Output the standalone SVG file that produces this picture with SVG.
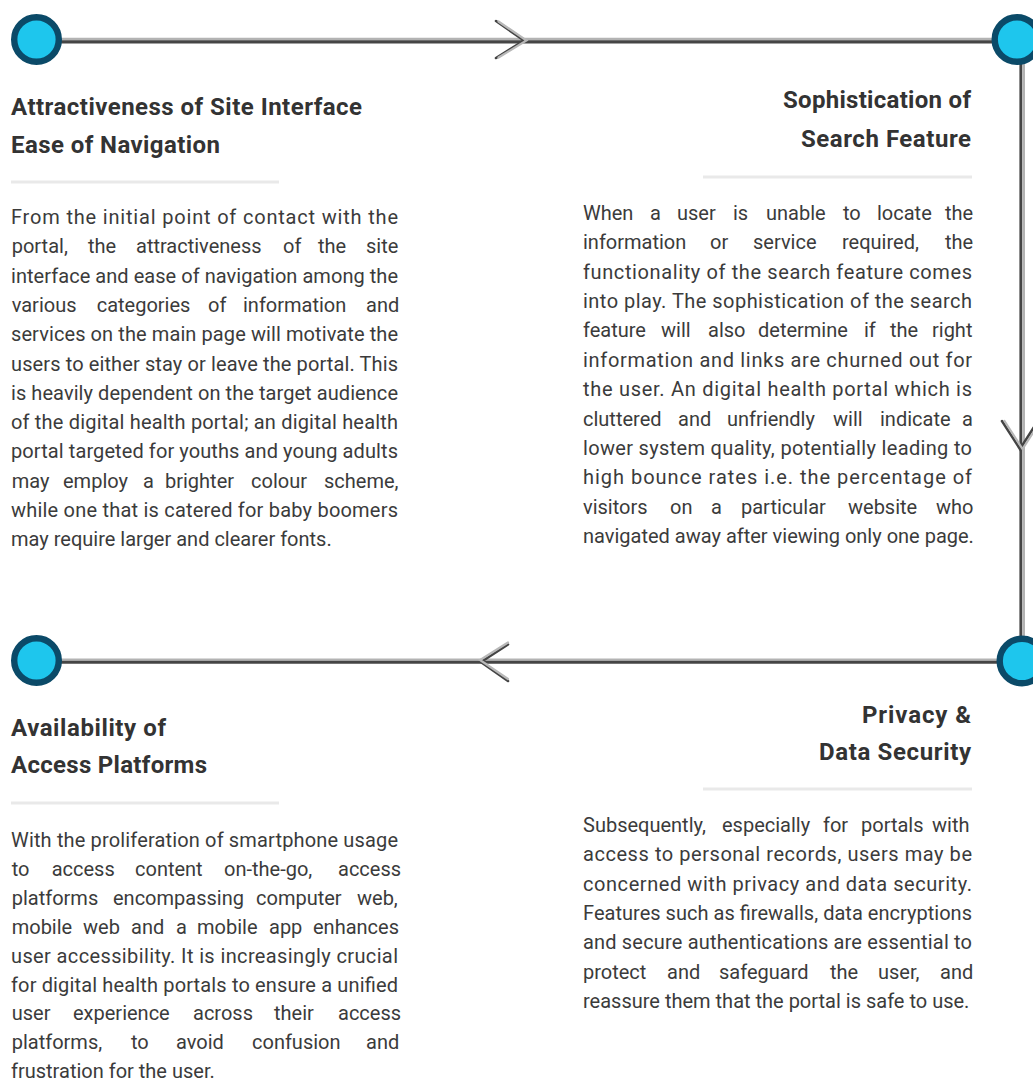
<svg xmlns="http://www.w3.org/2000/svg" width="1033" height="1081" viewBox="0 0 1033 1081">
<style>
.h{font-family:Roboto,"Liberation Sans",sans-serif;font-weight:700;font-size:24px;fill:#333333}
.he{text-anchor:end}
.b{font-family:Roboto,"Liberation Sans",sans-serif;font-size:20px;fill:#3b3b3b}
.sep{fill:#e9e9e9}
.dot{fill:#1ec6ed;stroke:#0b4a68;stroke-width:6.4}
.lt{fill:none;stroke:#b3b3b3;stroke-linecap:butt}
.dk{fill:none;stroke:#454545;stroke-linecap:butt}
.chd{fill:none;stroke:#444444;stroke-width:2.6;stroke-linecap:round;stroke-linejoin:miter}
.chl{fill:none;stroke:#b8b8b8;stroke-width:2.2;stroke-linecap:round;stroke-linejoin:miter}
</style>
<rect width="1033" height="1081" fill="#ffffff"/>
<g id="connectors">
  <path class="lt" d="M36 39 H1020" stroke-width="2.6"/>
  <path class="dk" d="M36 41.9 H1019.4" stroke-width="3.2"/>
  <path class="dk" d="M1020.8 40 V661" stroke-width="2.8"/>
  <path class="lt" d="M1023.6 42 V661" stroke-width="2.8"/>
  <path class="lt" d="M36 659.6 H1022" stroke-width="2.4"/>
  <path class="dk" d="M36 662.2 H1022" stroke-width="3"/>
  <polyline class="chd" points="496,21 524,40.5 496,58"/>
  <polyline class="chl" points="498.5,21.5 526.5,40.5 498.5,57.5"/>
  <polyline class="chd" points="1002,421 1020,449 1038,421"/>
  <polyline class="chl" points="1004.5,421 1022.5,449 1040.5,421"/>
  <polyline class="chd" points="508,644.5 481,662 508,681"/>
  <polyline class="chl" points="508,642.5 480,660 508,679"/>
</g>
<g id="node-attractiveness">
  <circle class="dot" cx="36.5" cy="39.5" r="22.3"/>
  <text class="h" x="11" y="115" textLength="351" lengthAdjust="spacing">Attractiveness of Site Interface</text>
  <text class="h" x="11" y="152.7" textLength="209" lengthAdjust="spacing">Ease of Navigation</text>
  <rect class="sep" x="11" y="180.5" width="268" height="3"/>
  <text class="b" x="11" y="224" textLength="387" lengthAdjust="spacing">From the initial point of contact with the</text>
  <text class="b" y="253.3"><tspan x="11.7">portal,</tspan><tspan x="88">the</tspan><tspan x="136">attractiveness</tspan><tspan x="283">of</tspan><tspan x="318">the</tspan><tspan x="366">site</tspan></text>
  <text class="b" x="11" y="282.6" textLength="387" lengthAdjust="spacing">interface and ease of navigation among the</text>
  <text class="b" y="311.9"><tspan x="11.7">various</tspan><tspan x="96.7">categories</tspan><tspan x="208">of</tspan><tspan x="243">information</tspan><tspan x="366">and</tspan></text>
  <text class="b" x="11" y="341.2" textLength="387" lengthAdjust="spacing">services on the main page will motivate the</text>
  <text class="b" x="11" y="370.5" textLength="387" lengthAdjust="spacing">users to either stay or leave the portal. This</text>
  <text class="b" x="11" y="399.8" textLength="387" lengthAdjust="spacing">is heavily dependent on the target audience</text>
  <text class="b" x="11" y="429.1" textLength="387" lengthAdjust="spacing">of the digital health portal; an digital health</text>
  <text class="b" x="11" y="458.4" textLength="387" lengthAdjust="spacing">portal targeted for youths and young adults</text>
  <text class="b" y="487.7"><tspan x="11.7">may</tspan><tspan x="63">employ</tspan><tspan x="143">a</tspan><tspan x="165">brighter</tspan><tspan x="251">colour</tspan><tspan x="324">scheme,</tspan></text>
  <text class="b" x="11" y="517" textLength="387" lengthAdjust="spacing">while one that is catered for baby boomers</text>
  <text class="b" x="11" y="546.3">may require larger and clearer fonts.</text>
</g>
<g id="node-search">
  <circle class="dot" cx="1017" cy="39.5" r="22.3"/>
  <text class="h he" x="971" y="108" textLength="188" lengthAdjust="spacing">Sophistication of</text>
  <text class="h he" x="971" y="146.7" textLength="170" lengthAdjust="spacing">Search Feature</text>
  <rect class="sep" x="703" y="175.5" width="269" height="3"/>
  <text class="b" y="220"><tspan x="583">When</tspan><tspan x="650">a</tspan><tspan x="677">user</tspan><tspan x="733">is</tspan><tspan x="766">unable</tspan><tspan x="843">to</tspan><tspan x="877">locate</tspan><tspan x="945">the</tspan></text>
  <text class="b" y="249.4"><tspan x="583">information</tspan><tspan x="710">or</tspan><tspan x="753">service</tspan><tspan x="842">required,</tspan><tspan x="945">the</tspan></text>
  <text class="b" x="583" y="278.7" textLength="389" lengthAdjust="spacing">functionality of the search feature comes</text>
  <text class="b" x="583" y="308.1" textLength="389" lengthAdjust="spacing">into play. The sophistication of the search</text>
  <text class="b" y="337.4"><tspan x="583">feature</tspan><tspan x="661">will</tspan><tspan x="708">also</tspan><tspan x="758">determine</tspan><tspan x="864">if</tspan><tspan x="890">the</tspan><tspan x="932">right</tspan></text>
  <text class="b" x="583" y="366.8" textLength="389" lengthAdjust="spacing">information and links are churned out for</text>
  <text class="b" x="583" y="396.1" textLength="389" lengthAdjust="spacing">the user. An digital health portal which is</text>
  <text class="b" y="425.5"><tspan x="583">cluttered</tspan><tspan x="678">and</tspan><tspan x="727">unfriendly</tspan><tspan x="833">will</tspan><tspan x="880">indicate</tspan><tspan x="962">a</tspan></text>
  <text class="b" x="583" y="454.8" textLength="389" lengthAdjust="spacing">lower system quality, potentially leading to</text>
  <text class="b" x="583" y="484.2" textLength="389" lengthAdjust="spacing">high bounce rates i.e. the percentage of</text>
  <text class="b" y="513.5"><tspan x="583">visitors</tspan><tspan x="670">on</tspan><tspan x="711">a</tspan><tspan x="741">particular</tspan><tspan x="848">website</tspan><tspan x="936">who</tspan></text>
  <text class="b" x="583" y="542.9">navigated away after viewing only one page.</text>
</g>
<g id="node-privacy">
  <circle class="dot" cx="1022" cy="661" r="22.3"/>
  <text class="h he" x="971" y="723" textLength="109" lengthAdjust="spacing">Privacy &amp;</text>
  <text class="h he" x="971" y="760" textLength="152" lengthAdjust="spacing">Data Security</text>
  <rect class="sep" x="703" y="787.5" width="269" height="3"/>
  <text class="b" y="832"><tspan x="583">Subsequently,</tspan><tspan x="722">especially</tspan><tspan x="823">for</tspan><tspan x="861">portals</tspan><tspan x="932">with</tspan></text>
  <text class="b" x="583" y="861.3" textLength="389" lengthAdjust="spacing">access to personal records, users may be</text>
  <text class="b" x="583" y="890.6" textLength="389" lengthAdjust="spacing">concerned with privacy and data security.</text>
  <text class="b" x="583" y="919.9" textLength="389" lengthAdjust="spacing">Features such as firewalls, data encryptions</text>
  <text class="b" x="583" y="949.2" textLength="389" lengthAdjust="spacing">and secure authentications are essential to</text>
  <text class="b" y="978.5"><tspan x="583">protect</tspan><tspan x="667">and</tspan><tspan x="719">safeguard</tspan><tspan x="830">the</tspan><tspan x="878">user,</tspan><tspan x="940">and</tspan></text>
  <text class="b" x="583" y="1007.8">reassure them that the portal is safe to use.</text>
</g>
<g id="node-availability">
  <circle class="dot" cx="36.5" cy="660.5" r="22.3"/>
  <text class="h" x="11" y="736" textLength="155" lengthAdjust="spacing">Availability of</text>
  <text class="h" x="11" y="773" textLength="196" lengthAdjust="spacing">Access Platforms</text>
  <rect class="sep" x="11" y="801.5" width="268" height="3"/>
  <text class="b" x="11" y="847" textLength="387" lengthAdjust="spacing">With the proliferation of smartphone usage</text>
  <text class="b" y="875.9"><tspan x="11.7">to</tspan><tspan x="51.7">access</tspan><tspan x="135">content</tspan><tspan x="224">on-the-go,</tspan><tspan x="338">access</tspan></text>
  <text class="b" y="904.8"><tspan x="11.7">platforms</tspan><tspan x="113">encompassing</tspan><tspan x="256">computer</tspan><tspan x="357">web,</tspan></text>
  <text class="b" y="933.7"><tspan x="11.7">mobile</tspan><tspan x="83">web</tspan><tspan x="131">and</tspan><tspan x="176">a</tspan><tspan x="197">mobile</tspan><tspan x="269">app</tspan><tspan x="313">enhances</tspan></text>
  <text class="b" x="11" y="962.6" textLength="387" lengthAdjust="spacing">user accessibility. It is increasingly crucial</text>
  <text class="b" x="11" y="991.5" textLength="387" lengthAdjust="spacing">for digital health portals to ensure a unified</text>
  <text class="b" y="1020.4"><tspan x="11.7">user</tspan><tspan x="73">experience</tspan><tspan x="193">across</tspan><tspan x="274">their</tspan><tspan x="338">access</tspan></text>
  <text class="b" y="1049.3"><tspan x="11.7">platforms,</tspan><tspan x="131">to</tspan><tspan x="176">avoid</tspan><tspan x="252">confusion</tspan><tspan x="366">and</tspan></text>
  <text class="b" x="11" y="1077.5">frustration for the user.</text>
</g>
</svg>
